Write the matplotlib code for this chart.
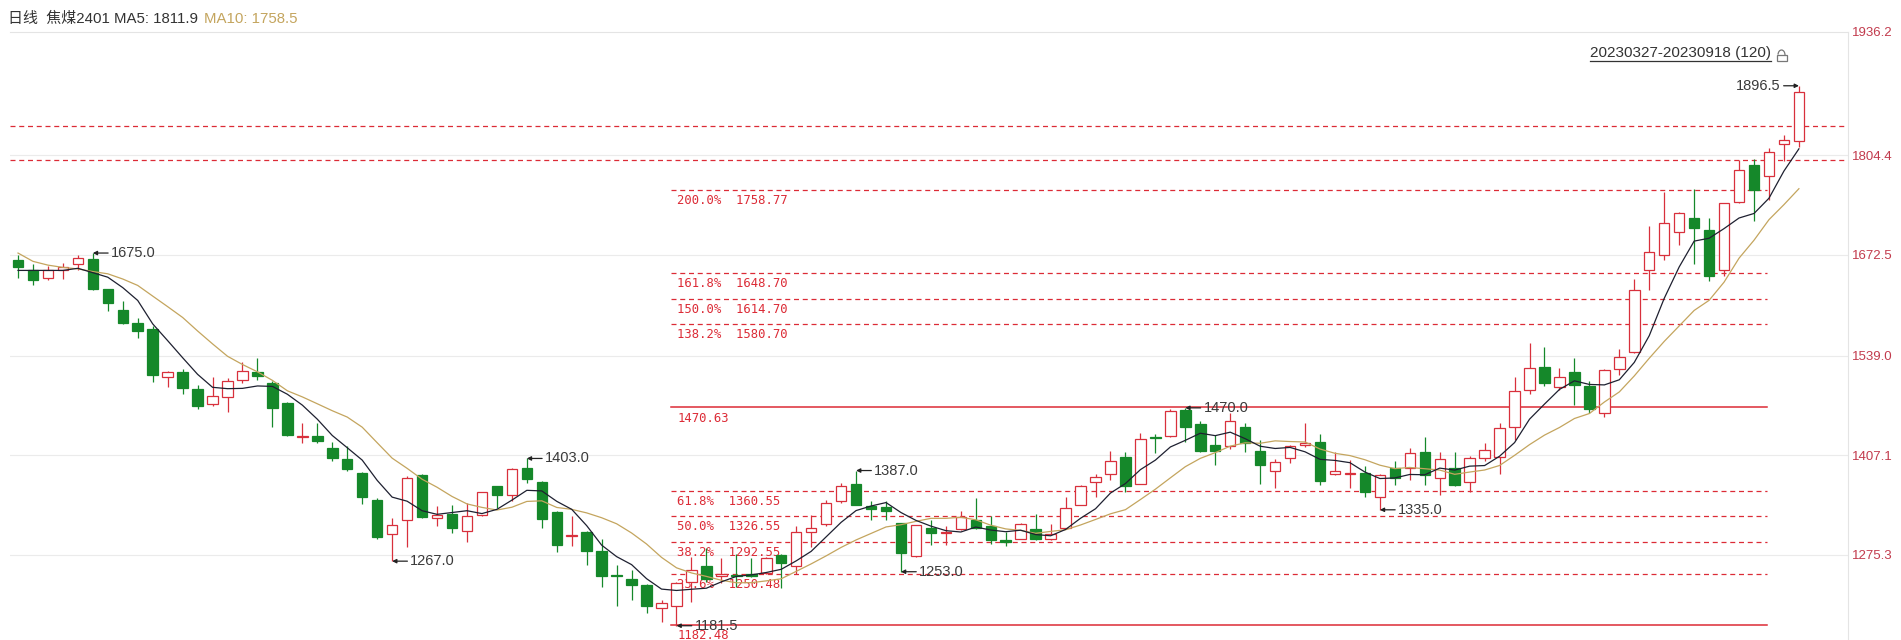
import matplotlib
matplotlib.use('Agg')
import matplotlib.pyplot as plt
from matplotlib.patches import Rectangle, Arc
from matplotlib.lines import Line2D
import numpy as np

plt.rcParams['font.family'] = ['Liberation Sans', 'Noto Sans CJK SC', 'DejaVu Sans']

# 日线 OHLC (20230327 - 20230918, 120 根)
opens = [1666, 1652, 1642, 1653, 1661, 1667, 1627, 1600, 1583, 1575,
         1511, 1518, 1495, 1475, 1484, 1507, 1517, 1503, 1477, 1432,
         1433, 1417, 1402, 1384, 1348, 1303, 1322, 1381, 1324, 1329,
         1307, 1328, 1366, 1354, 1391, 1372, 1332, 1300, 1306, 1280,
         1249, 1243, 1236, 1205, 1208, 1239, 1261, 1247, 1249, 1250,
         1251, 1275, 1260, 1305, 1316, 1347, 1369, 1340, 1339, 1317,
         1274, 1311, 1304, 1309, 1321, 1314, 1295, 1297, 1310, 1296,
         1311, 1342, 1372, 1382, 1405, 1369, 1431, 1433, 1467, 1448,
         1421, 1419, 1445, 1413, 1387, 1403, 1421, 1425, 1382, 1382,
         1384, 1352, 1390, 1390, 1411, 1377, 1391, 1372, 1403, 1405,
         1444, 1493, 1524, 1497, 1517, 1499, 1463, 1522, 1544, 1653,
         1672, 1703, 1721, 1705, 1653, 1743, 1792, 1777, 1819, 1824]
highs = [1673, 1661, 1658, 1662, 1673, 1675, 1628, 1611, 1589, 1578,
         1519, 1521, 1500, 1511, 1510, 1531, 1536, 1505, 1478, 1450,
         1450, 1425, 1419, 1385, 1350, 1324, 1380, 1382, 1340, 1342,
         1344, 1358, 1367, 1391, 1403, 1373, 1333, 1327, 1307, 1296,
         1262, 1255, 1237, 1216, 1239, 1273, 1284, 1271, 1277, 1271,
         1273, 1276, 1313, 1328, 1348, 1370, 1387, 1346, 1346, 1318,
         1315, 1322, 1313, 1333, 1350, 1327, 1306, 1317, 1330, 1316,
         1352, 1368, 1382, 1413, 1412, 1437, 1436, 1468, 1470, 1452,
         1434, 1463, 1450, 1428, 1402, 1421, 1450, 1436, 1412, 1401,
         1393, 1382, 1399, 1417, 1431, 1412, 1411, 1406, 1423, 1450,
         1511, 1556, 1551, 1523, 1536, 1505, 1521, 1548, 1640, 1711,
         1756, 1730, 1760, 1721, 1741, 1798, 1799, 1814, 1831, 1896.5]
lows = [1642, 1633, 1639, 1640, 1652, 1626, 1598, 1581, 1562, 1504,
        1497, 1488, 1469, 1473, 1465, 1503, 1507, 1445, 1433, 1423,
        1423, 1400, 1387, 1343, 1296, 1267, 1286, 1324, 1313, 1304,
        1292, 1327, 1338, 1347, 1370, 1311, 1279, 1287, 1262, 1233,
        1207, 1216, 1198, 1187, 1181.5, 1213, 1240, 1238, 1233, 1246,
        1250, 1232, 1250, 1286, 1313, 1344, 1341, 1322, 1322, 1253,
        1273, 1288, 1288, 1308, 1310, 1290, 1287, 1296, 1295, 1295,
        1309, 1341, 1352, 1375, 1358, 1369, 1410, 1431, 1425, 1412,
        1394, 1416, 1412, 1369, 1364, 1397, 1418, 1368, 1381, 1364,
        1352, 1335, 1368, 1375, 1368, 1355, 1366, 1359, 1399, 1382,
        1428, 1488, 1499, 1494, 1474, 1463, 1458, 1514, 1543, 1626,
        1666, 1686, 1661, 1638, 1645, 1741, 1717, 1745, 1797, 1816]
closes = [1657, 1639, 1652, 1657, 1669, 1628, 1609, 1583, 1572, 1514,
          1517, 1496, 1473, 1486, 1505, 1519, 1512, 1470, 1434, 1433,
          1426, 1404, 1389, 1352, 1299, 1315, 1377, 1326, 1328, 1311,
          1327, 1358, 1354, 1389, 1376, 1323, 1289, 1301, 1281, 1247,
          1247, 1236, 1208, 1212, 1238, 1255, 1243, 1250, 1248, 1248,
          1271, 1264, 1306, 1311, 1344, 1367, 1342, 1336, 1334, 1278,
          1315, 1304, 1306, 1325, 1311, 1295, 1293, 1316, 1296, 1303,
          1337, 1367, 1379, 1400, 1366, 1429, 1430, 1466, 1444, 1413,
          1413, 1453, 1423, 1394, 1398, 1420, 1424, 1373, 1387, 1383,
          1358, 1381, 1377, 1410, 1381, 1402, 1368, 1403, 1414, 1443,
          1492, 1523, 1503, 1511, 1500, 1468, 1520, 1537, 1626, 1677,
          1715, 1728, 1708, 1645, 1741, 1785, 1758, 1809, 1825, 1888]
# 区间之前的 9 个收盘价，用于计算均线
prior_closes = [1749, 1702, 1687, 1689, 1663, 1639, 1652, 1657, 1655]

# 标注的高低点: (序号, 'high'/'low')
marks = [(5, 'high'), (25, 'low'), (34, 'high'), (44, 'low'), (56, 'high'),
         (59, 'low'), (78, 'high'), (91, 'low'), (119, 'high')]

# 黄金分割
fib_low = 1182.48
fib_high = 1470.63
fib_pcts = ['23.6', '38.2', '50.0', '61.8', '138.2', '150.0', '161.8', '200.0']
fib_prices = [1250.48, 1292.55, 1326.55, 1360.55, 1580.70, 1614.70, 1648.70, 1758.77]
fib_start, fib_end = 43.6, 116.9
extra_lines = [1843, 1798]

y_ticks = [1275.3, 1407.1, 1539.0, 1672.5, 1804.4, 1936.2]

RED = '#d8303c'
GREEN = '#15882a'
FIB = '#dc2b36'
MA5_C = '#1e2030'
MA10_C = '#c4a55e'
TXT = '#3a3a3a'


def moving_avg(vals, n):
    vals = np.asarray(vals, dtype=float)
    return np.convolve(vals, np.ones(n) / n, mode='valid')


n = len(closes)
ext = prior_closes + closes
ma5 = moving_avg(ext, 5)[-n:]
ma10 = moving_avg(ext, 10)[-n:]

W, H = 1901, 640
fig = plt.figure(figsize=(W / 100, H / 100), dpi=100)
ax = fig.add_axes([10 / W, 0, 1838 / W, 608 / H])
y_bot, y_top = 1162.6, 1967.7
ax.set_xlim(-0.535, 122.28)
ax.set_ylim(y_bot, y_top)

# 网格
for v in y_ticks[:-1]:
    ax.axhline(v, color='#ebebeb', lw=0.8, zorder=0)
for s in ['left', 'bottom']:
    ax.spines[s].set_visible(False)
for s in ['top', 'right']:
    ax.spines[s].set_color('#e4e4e4')
    ax.spines[s].set_linewidth(0.8)
ax.set_xticks([])
ax.yaxis.tick_right()
# 最上面的刻度标在图框顶端
ax.set_yticks(y_ticks[:-1] + [y_top])
ax.set_yticklabels([f'{v:.1f}' for v in y_ticks])
ax.tick_params(axis='y', length=0, pad=3, labelsize=9.5, labelcolor='#c23b4d')

# 黄金分割线
fx = [fib_start, fib_end]
for p in extra_lines:
    ax.axhline(p, color=FIB, lw=0.9, ls=(0, (4, 3)), zorder=1)
for p in fib_prices:
    ax.plot(fx, [p, p], color=FIB, lw=0.9, ls=(0, (4, 3)), zorder=1)
for p in (fib_low, fib_high):
    ax.plot(fx, [p, p], color=FIB, lw=1.1, zorder=1)
fib_labels = [f'{pc}%  {pr:.2f}' for pc, pr in zip(fib_pcts, fib_prices)]
for lab, p in zip(fib_labels + [f'{fib_low:.2f}', f'{fib_high:.2f}'],
                  fib_prices + [fib_low, fib_high]):
    ax.annotate(lab, xy=(fib_start, p), xytext=(5, -3), textcoords='offset points',
                ha='left', va='top', fontsize=8.8, color=FIB,
                family='DejaVu Sans Mono', zorder=1)

# K 线
bw = 0.7
for i, (o, h, l, c) in enumerate(zip(opens, highs, lows, closes)):
    up = c >= o
    col = RED if up else GREEN
    ax.plot([i, i], [l, h], color=col, lw=0.9, zorder=3, solid_capstyle='butt')
    bottom = min(o, c)
    height = max(abs(c - o), 1.2)
    ax.add_patch(Rectangle((i - bw / 2, bottom), bw, height,
                           facecolor='white' if up else col, edgecolor=col,
                           lw=0.9, zorder=4))

# 均线
xs = np.arange(n)
ax.plot(xs, ma10, color=MA10_C, lw=0.9, zorder=5)
ax.plot(xs, ma5, color=MA5_C, lw=0.9, zorder=5)

# 高低点标注
for i, kind in marks:
    v = highs[i] if kind == 'high' else lows[i]
    if i == n - 1:
        off, ha, rel = (-13, 0), 'right', (1, 0.5)
    else:
        off, ha, rel = (13, 0), 'left', (0, 0.5)
    ax.annotate(f'{v:.1f}', xy=(i, v), xytext=off, textcoords='offset points',
                ha=ha, va='center', fontsize=10.5, color=TXT, zorder=6,
                arrowprops=dict(arrowstyle='-|>', color='#222222', lw=0.9,
                                shrinkA=0, shrinkB=0, mutation_scale=6,
                                relpos=rel))

# 顶部标题
t1 = fig.text(8 / W, 1 - 19 / H, '日线  焦煤2401 MA5: 1811.9', fontsize=10.8,
              color='#333333', va='center', ha='left')
ax.annotate('MA10: 1758.5', xy=(1, 0.5), xycoords=t1, xytext=(4, 0),
            textcoords='offset points', va='center', ha='left',
            fontsize=10.8, color=MA10_C)

# 区间说明
t2 = fig.text(1680 / W, 1 - 53 / H, '20230327-20230918 (120)', fontsize=11,
              color='#333333', va='center', ha='center')
fig.canvas.draw()
bb = t2.get_window_extent()
x0, x1 = bb.x0 / W, bb.x1 / W
yu = (bb.y0 - 1) / H
fig.add_artist(Line2D([x0, x1], [yu, yu], color='#333333', lw=0.9))

# 锁图标
lx = bb.x1 + 6
fig.add_artist(Rectangle((lx / W, (H - 61) / H), 10 / W, 6 / H, transform=fig.transFigure,
                         facecolor='none', edgecolor='#777777', lw=0.9))
fig.add_artist(Arc(((lx + 5) / W, (H - 55) / H), 7 / W, 10 / H, theta1=0, theta2=160,
                   transform=fig.transFigure, color='#777777', lw=0.9))

fig.savefig('out.png', dpi=100, facecolor='white')
